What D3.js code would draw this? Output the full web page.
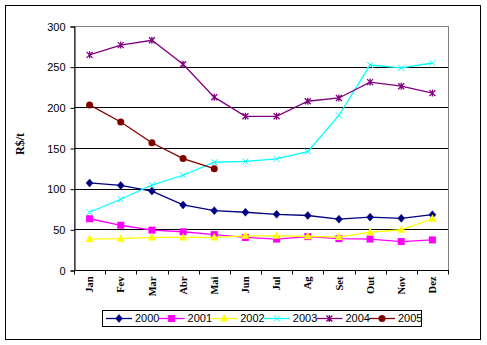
<!DOCTYPE html>
<html><head><meta charset="utf-8">
<script src="https://cdn.jsdelivr.net/npm/d3@7"></script>
<style>body{margin:0;background:#fff}svg{display:block}</style>
</head><body>
<script>
const months = ["Jan","Fev","Mar","Abr","Mai","Jun","Jul","Ag","Set","Out","Nov","Dez"];
const seriesNames = ["2000","2001","2002","2003","2004","2005"];
const s2000 = [107,104,97,80,73,71,68.5,67,62.5,65,63.5,68];
const s2001 = [63,55,49,47,43.5,40,38,41,38.5,38,35,37];
const s2002 = [38,38.5,40,40,40,42,42,41.5,40.5,46.5,49.5,63];
const s2003 = [71,87,104.5,116.5,132.5,133.5,136.5,145.5,190,252,248.5,254.5];
const s2004 = [264.5,276.5,282.5,253,212.5,189,189,207.5,211.5,231,226,217.5];
const s2005 = [203,182,156.5,137,124.5];
const yTicks = [0,50,100,150,200,250,300];
const yLabel = "R$/t";
const colors = ["#000080","#FF00FF","#FFFF00","#00FFFF","#800080","#800000"];
const markers = ["diamond","square","triangle","x","star","circle"];
const allSeries = [s2000,s2001,s2002,s2003,s2004,s2005];

const W=487,H=345;
const svg=d3.select("body").append("svg").attr("width",W).attr("height",H);
svg.append("rect").attr("x",5.5).attr("y",5.5).attr("width",475).attr("height",334)
  .attr("fill","#fff").attr("stroke","#000").attr("stroke-width",1);

const L=74,R=448,T=26,B=270;
const x=d3.scaleBand().domain(months).range([L,R]).padding(0);
const y=d3.scaleLinear().domain([0,300]).range([B,T]);
const cx=m=>x(m)+x.bandwidth()/2;

// gridlines
svg.append("g").selectAll("line").data(yTicks.filter(v=>v>0&&v<300)).join("line")
  .attr("x1",L).attr("x2",R).attr("y1",v=>Math.round(y(v))+0.5).attr("y2",v=>Math.round(y(v))+0.5)
  .attr("stroke","#000").attr("stroke-width",1);
// plot border gray
svg.append("rect").attr("x",L+0.5).attr("y",T+0.5).attr("width",R-L).attr("height",B-T)
  .attr("fill","none").attr("stroke","#808080");

// y axis
const yAxis=d3.axisLeft(y).tickValues(yTicks).tickSize(4).tickPadding(5);
const gy=svg.append("g").attr("transform",`translate(${L+0.5},0.5)`).call(yAxis);
gy.select(".domain").attr("stroke","#000");
gy.selectAll("text").attr("font-family","Liberation Sans, Arial, sans-serif").attr("font-size",11).attr("fill","#000");

// x axis
const gx=svg.append("g").attr("transform",`translate(0,${B+0.5})`);
gx.append("line").attr("x1",L).attr("x2",R+1).attr("stroke","#000");
gx.selectAll(".tk").data(d3.range(13)).join("line").attr("class","tk")
  .attr("x1",i=>Math.round(L+i*x.bandwidth())+0.5).attr("x2",i=>Math.round(L+i*x.bandwidth())+0.5)
  .attr("y1",0).attr("y2",4).attr("stroke","#000");
gx.selectAll("text").data(months).join("text")
  .attr("transform",m=>`translate(${cx(m)},6) rotate(-90)`)
  .attr("text-anchor","end").attr("dy","0.35em")
  .attr("font-family","Liberation Serif, Times New Roman, serif").attr("font-weight","bold").attr("font-size",10.5)
  .text(m=>m);

// y label
svg.append("text").attr("transform",`translate(20,144) rotate(-90)`)
  .attr("text-anchor","middle").attr("dy","0.35em")
  .attr("font-family","Liberation Serif, Times New Roman, serif").attr("font-weight","bold").attr("font-size",12)
  .text(yLabel);

function drawMarker(g,type,color,px,py){
  if(type==="diamond"){
    g.append("path").attr("d",`M${px},${py-4}L${px+3.5},${py}L${px},${py+4}L${px-3.5},${py}Z`).attr("fill",color).attr("stroke",color).attr("stroke-width",0.5);
  } else if(type==="square"){
    g.append("rect").attr("x",px-3.5).attr("y",py-3.5).attr("width",7).attr("height",7).attr("fill",color);
  } else if(type==="triangle"){
    g.append("path").attr("d",`M${px},${py-4.5}L${px+4},${py+3}L${px-4},${py+3}Z`).attr("fill",color);
  } else if(type==="x"){
    g.append("path").attr("d",`M${px-3},${py-3}L${px+3},${py+3}M${px-3},${py+3}L${px+3},${py-3}`).attr("stroke",color).attr("stroke-width",1);
  } else if(type==="star"){
    g.append("path").attr("d",`M${px-3},${py-3}L${px+3},${py+3}M${px-3},${py+3}L${px+3},${py-3}M${px},${py-3.5}L${px},${py+3.5}`).attr("stroke",color).attr("stroke-width",1.3);
  } else {
    g.append("circle").attr("cx",px).attr("cy",py).attr("r",3.5).attr("fill",color);
  }
}

const line=d3.line().x((d,i)=>cx(months[i])).y(d=>y(d));
allSeries.forEach((s,k)=>{
  const g=svg.append("g");
  g.append("path").attr("d",line(s)).attr("fill","none").attr("stroke",colors[k]).attr("stroke-width",1.3);
  s.forEach((v,i)=>drawMarker(g,markers[k],colors[k],cx(months[i]),y(v)));
});

// legend
const lg=svg.append("g");
lg.append("rect").attr("x",102.5).attr("y",310.5).attr("width",319).attr("height",16).attr("fill","#fff").attr("stroke","#000");
seriesNames.forEach((n,k)=>{
  const x0=106+k*52.6, yy=318.5;
  const g=lg.append("g");
  g.append("line").attr("x1",x0).attr("x2",x0+26).attr("y1",yy).attr("y2",yy).attr("stroke",colors[k]).attr("stroke-width",1.3);
  drawMarker(g,markers[k],colors[k],x0+13,yy);
  g.append("text").attr("x",x0+29).attr("y",yy).attr("dy","0.36em")
    .attr("font-family","Liberation Sans, Arial, sans-serif").attr("font-size",11).text(n);
});
</script>
</body></html>
